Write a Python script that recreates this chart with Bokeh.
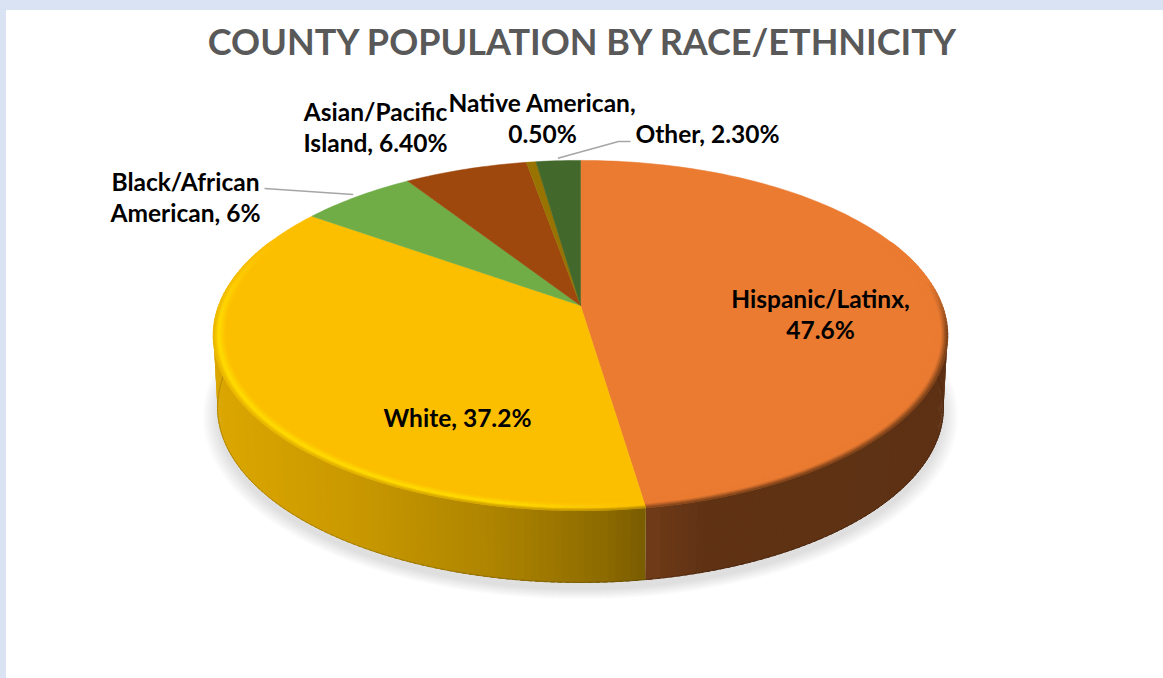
import numpy as np
from bokeh.plotting import figure
from bokeh.embed import file_html
from bokeh.resources import INLINE
from bokeh.core.properties import value as fixed

title_text = "COUNTY POPULATION BY RACE/ETHNICITY"
categories = ["Hispanic/Latinx", "White", "Black/African American", "Asian/Pacific Island", "Native American", "Other"]
shares = [47.6, 37.2, 6.0, 6.4, 0.5, 2.3]
colors = ["#ea7b31", "#fcbf00", "#70ad47", "#9e480e", "#997300", "#43682b"]
label_lines = [["Hispanic/Latinx,", "47.6%"], ["White, 37.2%"], ["Black/African", "American, 6%"],
               ["Asian/Pacific", "Island, 6.40%"], ["Native American,", "0.50%"], ["Other, 2.30%"]]
label_x = [820, 457, 185, 375, 542, 707]
label_y = [298, 417, 181, 111, 102, 133]

CX, CY, A, B, K = 580.0, 305.0, 361.6, 169.9, 0.171
DEPTH, A_BOTTOM = 72.0, 357.6


def proj(theta, r=1.0, d=0.0, a=A):
    u, v = r * np.sin(theta), -r * np.cos(theta)
    s = 1 / (1 - K * v)
    return CX + a * u * s, CY + d + B * v * s


def rgb(c):
    return np.array([int(c[i:i + 2], 16) for i in (1, 3, 5)], float)


def hexc(a):
    a = np.clip(a, 0, 255).round().astype(int)
    return "#%02x%02x%02x" % tuple(a)


def wall_shade(x):
    return np.interp(x, [215, 350, 490, 600, 645, 700, 950], [.87, .80, .69, .56, .48, .41, .40])


edges = np.concatenate([[0], np.cumsum(shares)]) / sum(shares) * 2 * np.pi

p = figure(width=1147, height=662, x_range=(0, 1147), y_range=(662, 0), output_backend="svg",
           toolbar_location=None, x_axis_type=None, y_axis_type=None, min_border=0,
           background_fill_color=None, border_fill_color=None, outline_line_color=None)
p.grid.visible = False

# soft ground shadow
ang = np.linspace(0, 2 * np.pi, 240)
for sc in np.linspace(1.04, 1.0, 16):
    x, y = proj(ang, sc, DEPTH + 7, A_BOTTOM)
    p.patch(x, y, fill_color="#808080", fill_alpha=0.02, line_color=None)

# side wall: each strip reaches over the next one, so that no seam shows
wx, wy, wc, bx, by, bc = [], [], [], [], [], []
STEP = np.radians(1.0)
for i, col in enumerate(colors):
    n = max(2, int((edges[i + 1] - edges[i]) / STEP))
    th = np.linspace(edges[i], edges[i + 1], n + 1)
    base = rgb(col)
    for t0, t1 in zip(th[:-1], th[1:]):
        if -np.cos(t0) < -0.3 and -np.cos(t1) < -0.3:
            continue
        x0, y0 = proj(t0)
        x3, y3 = proj(t0, 1.0, DEPTH, A_BOTTOM)
        te = min(t1 + STEP * 0.6, edges[i + 1])
        x1, y1 = proj(te)
        x2, y2 = proj(te, 1.0, DEPTH, A_BOTTOM)
        shade = wall_shade((x0 + x1) / 2)
        wx.append([x0, x1, x2, x3]); wy.append([y0, y1, y2, y3]); wc.append(hexc(base * shade))
        bx.append([x3, x2]); by.append([y3, y2]); bc.append(hexc(base * shade * 0.85))
p.patches(wx, wy, fill_color=wc, line_color=None)
p.multi_line(bx, by, line_color=bc, line_width=1.0)

# top face
fx, fy = [], []
for i in range(len(shares)):
    th = np.linspace(edges[i], edges[i + 1], max(3, int((edges[i + 1] - edges[i]) / np.radians(1.0))))
    x, y = proj(th)
    fx.append(np.concatenate([[CX], x])); fy.append(np.concatenate([[CY], y]))
p.patches(fx, fy, fill_color=colors, line_color=colors, line_width=0.5)

# bevel on the rim of the top face
rx, ry, rc = [], [], []
RINGS = np.linspace(0.962, 1.0, 10)
for i, col in enumerate(colors[:2]):
    base = rgb(col)
    n = int((edges[i + 1] - edges[i]) / np.radians(1.2))
    th = np.linspace(edges[i], edges[i + 1], n + 1)
    for t0, t1 in zip(th[:-1], th[1:]):
        tm = (t0 + t1) / 2
        xm, _ = proj(tm)
        vm = -np.cos(tm)
        w = np.interp(vm, [-0.4, 0.1], [0, 1])
        if w <= 0:
            continue
        edge = base * wall_shade(xm)
        te = min(t1 + np.radians(0.5), edges[i + 1])
        for j, (r0, r1) in enumerate(zip(RINGS[:-1], RINGS[1:])):
            f = (j + 0.5) / (len(RINGS) - 1)
            if i == 1:
                bright = rgb("#ffe000")
                wb = w * np.interp(xm, [500, 625], [1, 0.1])
                c = base + (bright - base) * wb * np.interp(f, [0.15, .62, .85], [0, .85, .5])
                c = c + (edge - c) * np.interp(f, [.7, 1], [0, .65]) * w
            else:
                c = base + (edge - base) * np.interp(f, [.55, 1], [0, .85]) * np.interp(vm, [-0.15, 0.15], [0, 1])
            a0, b0 = proj(t0, r0); a1, b1 = proj(te, r0)
            a2, b2 = proj(te, r1 + 0.002); a3, b3 = proj(t0, r1 + 0.002)
            rx.append([a0, a1, a2, a3]); ry.append([b0, b1, b2, b3]); rc.append(hexc(c))
p.patches(rx, ry, fill_color=rc, line_color=None)

# leader lines
mid = (edges[:-1] + edges[1:]) / 2
lx0, ly0 = proj(mid[2], 1.02)
lx1, ly1 = proj(mid[5], 1.02)
p.line([264, lx0], [188, ly0], line_color="#a6a6a6", line_width=1.5)
p.line([lx1, 618, 630], [ly1, 141, 141], line_color="#a6a6a6", line_width=1.5)

# data labels
for i, lines in enumerate(label_lines):
    for j, line in enumerate(lines):
        p.text([label_x[i]], [label_y[i] + 31 * j], text=[line], text_font=fixed("Lato"),
               text_font_style="bold", text_font_size="24.5px", text_color="#000000",
               text_align="center", text_baseline="middle")

p.text([583], [40], text=[title_text], text_font=fixed("Lato"), text_font_style="bold",
       text_font_size="36px", text_color="#595959", text_align="center", text_baseline="middle")

html = file_html(p, INLINE)
bg = ("linear-gradient(#dae3f3,#dae3f3) 0 0/100% 10px no-repeat,"
      "linear-gradient(#dae3f3,#dae3f3) 0 0/6px 100% no-repeat,#ffffff")
html = html.replace("</head>", "<style>html,body{background:" + bg + ";}</style></head>", 1)
open("out.html", "w").write(html)
